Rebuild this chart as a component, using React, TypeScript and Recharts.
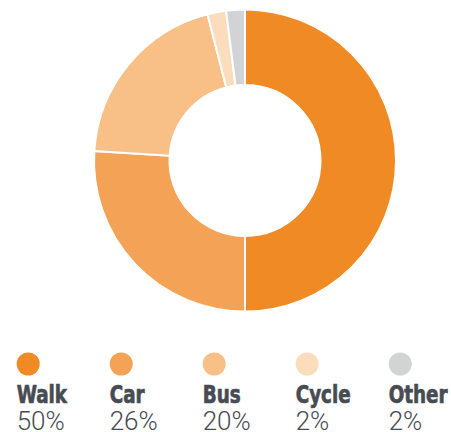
import React from "react";
import { PieChart, Pie, Cell, Legend } from "recharts";

const modes = ["Walk", "Car", "Bus", "Cycle", "Other"];
const shares = [50, 26, 20, 2, 2];
const colors = ["#F08A24", "#F4A356", "#F8BF87", "#FBDDBE", "#D1D3D4"];

const data = modes.map((name, i) => ({ name, value: shares[i] }));

const TEXT = "#474C53";

const LegendContent = () => {
  return (
    <svg width={451} height={92} style={{ display: "block", overflow: "visible" }}>
      {data.map((d, i) => {
        const x = 16.7 + i * 93;
        return (
          <g key={d.name}>
            <circle cx={x + 11.5} cy={24} r={11.5} fill={colors[i]} />
            <text
              x={0}
              y={62.8}
              transform={`translate(${x},0) scale(0.8,1)`}
              fill={TEXT}
              stroke={TEXT}
              strokeWidth={0.7}
              fontFamily="'DejaVu Sans Condensed', 'DejaVu Sans', sans-serif"
              fontWeight={700}
              fontSize={25.5}
            >
              {d.name}
            </text>
            <text
              x={x}
              y={89.5}
              fill={TEXT}
              fontFamily="Roboto, sans-serif"
              fontWeight={300}
              fontSize={26}
            >
              {d.value}%
            </text>
          </g>
        );
      })}
    </svg>
  );
};

export default function App() {
  return (
    <div style={{ position: "absolute", left: 0, top: 0, width: 451, height: 432, background: "#fff" }}>
      <PieChart width={451} height={432} margin={{ top: 0, right: 0, bottom: 0, left: 0 }}>
        <Pie
          data={data}
          dataKey="value"
          nameKey="name"
          cx={245}
          cy={160.5}
          innerRadius={75.5}
          outerRadius={151}
          startAngle={90}
          endAngle={-270}
          stroke="#fff"
          strokeWidth={2}
          isAnimationActive={false}
        >
          {data.map((d, i) => (
            <Cell key={d.name} fill={colors[i]} />
          ))}
        </Pie>
        <Legend
          content={LegendContent}
          wrapperStyle={{ position: "absolute", left: 0, top: 340, width: 451, height: 92 }}
        />
      </PieChart>
    </div>
  );
}
